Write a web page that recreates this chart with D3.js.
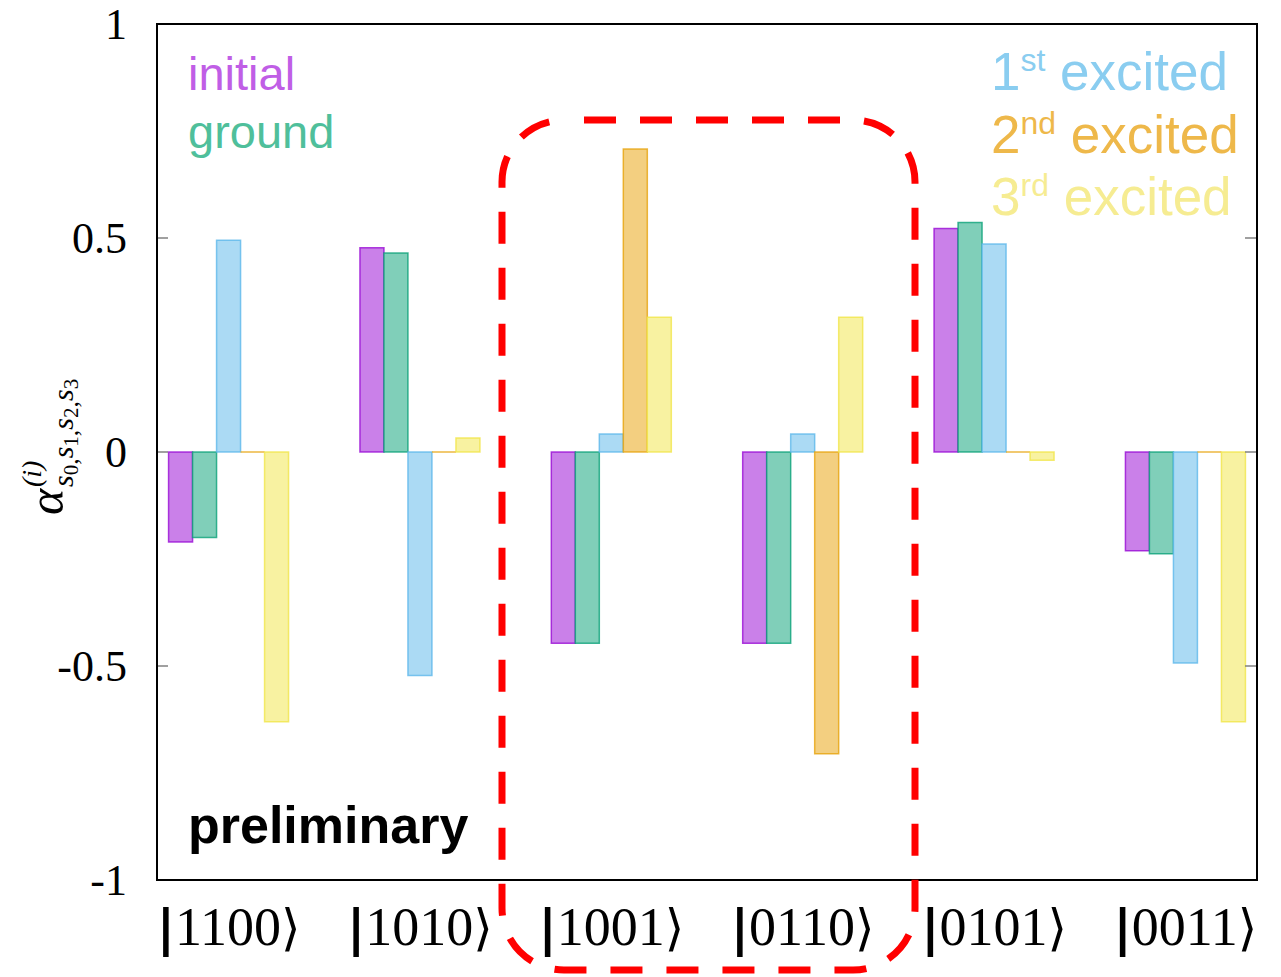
<!DOCTYPE html>
<html>
<head>
<meta charset="utf-8">
<script src="https://cdn.jsdelivr.net/npm/d3@7"></script>
<style>
  body { margin: 0; background: #fff; }
  .serif { font-family: "Liberation Serif", "DejaVu Serif", serif; }
  .sans { font-family: "Liberation Sans", Arial, sans-serif; }
</style>
</head>
<body>
<div id="chart"></div>
<script>
// basis states on the x axis
const categories = ["1100", "1010", "1001", "0110", "0101", "0011"];

// amplitudes, one array per state
const initial  = [-0.210,  0.477, -0.447, -0.447,  0.522, -0.231];
const ground   = [-0.200,  0.465, -0.447, -0.447,  0.536, -0.238];
const excited1 = [ 0.495, -0.522,  0.042,  0.042,  0.486, -0.493];
const excited2 = [ 0.000,  0.000,  0.708, -0.705,  0.000,  0.000];
const excited3 = [-0.630,  0.033,  0.315,  0.315, -0.019, -0.630];

const yTicks = [-1, -0.5, 0, 0.5, 1];
const yTickLabels = ["-1", "-0.5", "0", "0.5", "1"];

const seriesNames = ["initial", "ground", "excited1", "excited2", "excited3"];
const seriesValues = [initial, ground, excited1, excited2, excited3];
// gnuplot default line colours
const seriesColors = ["#9400d3", "#009e73", "#56b4e9", "#e69f00", "#f0e442"];
const labelColors  = ["#c05ee6", "#4fbf9b", "#8acdf0", "#eeb84a", "#f6ec92"];

const W = 1281, H = 977;
const margin = { top: 24, right: 24, bottom: 97, left: 157 },
  width = W - margin.left - margin.right,
  height = H - margin.top - margin.bottom;

const svg = d3.select("#chart")
  .append("svg")
  .attr("width", W)
  .attr("height", H);

const g = svg.append("g")
  .attr("transform", `translate(${margin.left},${margin.top})`);

// scales
const x = d3.scalePoint()
  .domain(categories)
  .range([0, width])
  .padding(0.374);

const inner = d3.scaleBand()
  .domain(seriesNames)
  .range([-60, 60]);

const y = d3.scaleLinear()
  .domain([-1, 1])
  .range([height, 0]);

// bars (drawn as paths so zero values still show as a thin line)
seriesNames.forEach((name, k) => {
  const vals = seriesValues[k];
  const col = d3.color(seriesColors[k]);
  const fill = d3.interpolateRgb(seriesColors[k], "#ffffff")(0.5);
  const bw = inner.bandwidth();
  g.append("g")
    .selectAll("path")
    .data(vals)
    .join("path")
    .attr("d", (d, i) => {
      const x0 = x(categories[i]) + inner(name);
      const yTop = y(Math.max(0, d)), yBot = y(Math.min(0, d));
      return `M${x0},${yTop}H${x0 + bw}V${yBot}H${x0}Z`;
    })
    .attr("fill", fill)
    .attr("stroke", col.copy({ opacity: 0.75 }))
    .attr("stroke-width", 1.5);
});

// inward ticks, left and right
const ticksG = g.append("g");
ticksG.selectAll("line.l")
  .data(yTicks)
  .join("line")
  .attr("class", "l")
  .attr("x1", 0).attr("x2", 11)
  .attr("y1", d => y(d)).attr("y2", d => y(d))
  .attr("stroke", "#808080").attr("stroke-width", 1.5);
ticksG.selectAll("line.r")
  .data(yTicks)
  .join("line")
  .attr("class", "r")
  .attr("x1", width - 12).attr("x2", width)
  .attr("y1", d => y(d)).attr("y2", d => y(d))
  .attr("stroke", "#808080").attr("stroke-width", 1.5);

// frame
g.append("rect")
  .attr("x", 0).attr("y", 0)
  .attr("width", width).attr("height", height)
  .attr("fill", "none")
  .attr("stroke", "#000")
  .attr("stroke-width", 2);

// y tick labels
g.append("g")
  .selectAll("text")
  .data(yTicks)
  .join("text")
  .attr("class", "serif")
  .attr("x", -30)
  .attr("y", d => y(d))
  .attr("dy", "0.34em")
  .attr("text-anchor", "end")
  .attr("font-size", 44)
  .text((d, i) => yTickLabels[i]);

// x tick labels  |xxxx⟩
const xl = g.append("g")
  .selectAll("text")
  .data(categories)
  .join("text")
  .attr("class", "serif")
  .attr("x", d => x(d))
  .attr("y", height + 65)
  .attr("text-anchor", "middle")
  .attr("font-size", 54);
xl.append("tspan").attr("font-family", "DejaVu Sans").attr("font-weight", "bold").attr("font-size", 50).text("|");
xl.append("tspan").text(d => d);
xl.append("tspan").attr("font-family", "DejaVu Serif").attr("font-size", 50).text("\u27E9");

// y axis label  alpha^(i)_{s0,s1,s2,s3}
const yl = svg.append("text")
  .attr("class", "serif")
  .attr("transform", "translate(63,515) rotate(-90)")
  .attr("font-style", "italic");
yl.append("tspan").attr("font-size", 50).text("\u03B1");
yl.append("tspan").attr("x", 28).attr("y", -22).attr("font-size", 28).text("(i)");
[["s", "0"], ["s", "1"], ["s", "2"], ["s", "3"]].forEach((p, i) => {
  const s = yl.append("tspan").attr("y", 10).attr("font-size", 30).text(p[0]);
  if (i === 0) s.attr("x", 28);
  yl.append("tspan").attr("y", 15).attr("font-size", 21).attr("font-style", "normal").text(p[1]);
  if (i < 3) yl.append("tspan").attr("y", 15).attr("font-size", 26).attr("font-style", "normal").text(",");
});

// legend, left column
const legL = [["initial", labelColors[0], 90], ["ground", labelColors[1], 148]];
legL.forEach(d => {
  svg.append("text")
    .attr("class", "sans")
    .attr("x", 188).attr("y", d[2])
    .attr("font-size", 47)
    .attr("fill", d[1])
    .text(d[0]);
});

// legend, right column with superscripts
const legR = [["1", "st", labelColors[2], 90], ["2", "nd", labelColors[3], 153], ["3", "rd", labelColors[4], 215]];
legR.forEach(d => {
  const t = svg.append("text")
    .attr("class", "sans")
    .attr("x", 991).attr("y", d[3])
    .attr("font-size", 53)
    .attr("fill", d[2]);
  t.append("tspan").text(d[0]);
  t.append("tspan").attr("dy", -19).attr("font-size", 32).text(d[1]);
  t.append("tspan").attr("dy", 19).text(" excited");
});

// "preliminary"
svg.append("text")
  .attr("class", "sans")
  .attr("x", 188).attr("y", 843)
  .attr("font-size", 52)
  .attr("font-weight", "bold")
  .attr("fill", "#000")
  .text("preliminary");

// red dashed highlight box
svg.append("rect")
  .attr("x", 502).attr("y", 120)
  .attr("width", 413).attr("height", 850)
  .attr("rx", 62).attr("ry", 62)
  .attr("fill", "none")
  .attr("stroke", "#ff0000")
  .attr("stroke-width", 7)
  .attr("stroke-dasharray", "32 24")
  .attr("stroke-dashoffset", -20);
</script>
</body>
</html>
